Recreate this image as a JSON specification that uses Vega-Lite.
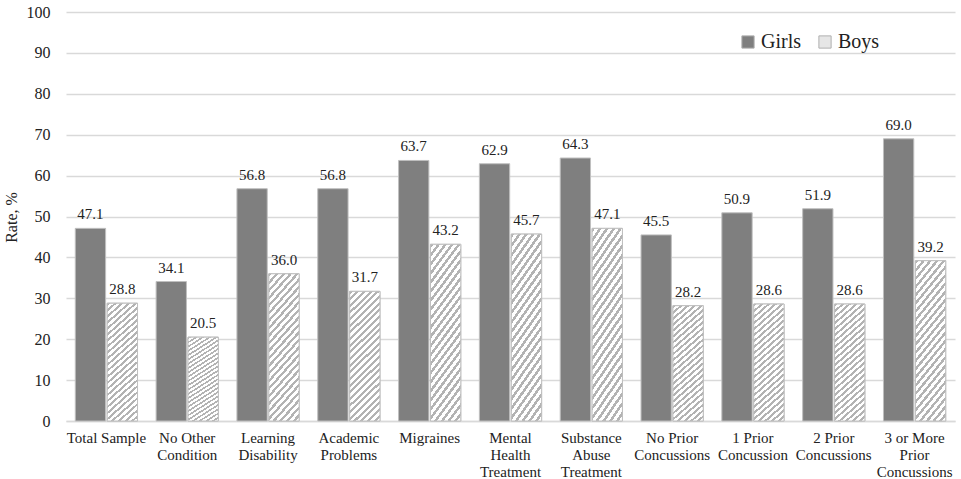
{
  "$schema": "https://vega.github.io/schema/vega-lite/v6.json",
  "width": 889,
  "height": 409,
  "autosize": {"type": "none"},
  "padding": {"left": 66, "top": 12, "right": 6, "bottom": 58},
  "background": "white",
  "config": {
    "font": "Liberation Serif",
    "view": {"stroke": null},
    "legend": {"labelFont": "Liberation Serif"}
  },
  "data": {
    "values": [
      {"cat": "Total Sample", "sex": "Girls", "rate": 47.1},
      {"cat": "Total Sample", "sex": "Boys", "rate": 28.8},
      {"cat": "No Other|Condition", "sex": "Girls", "rate": 34.1},
      {"cat": "No Other|Condition", "sex": "Boys", "rate": 20.5},
      {"cat": "Learning|Disability", "sex": "Girls", "rate": 56.8},
      {"cat": "Learning|Disability", "sex": "Boys", "rate": 36.0},
      {"cat": "Academic|Problems", "sex": "Girls", "rate": 56.8},
      {"cat": "Academic|Problems", "sex": "Boys", "rate": 31.7},
      {"cat": "Migraines", "sex": "Girls", "rate": 63.7},
      {"cat": "Migraines", "sex": "Boys", "rate": 43.2},
      {"cat": "Mental|Health|Treatment", "sex": "Girls", "rate": 62.9},
      {"cat": "Mental|Health|Treatment", "sex": "Boys", "rate": 45.7},
      {"cat": "Substance|Abuse|Treatment", "sex": "Girls", "rate": 64.3},
      {"cat": "Substance|Abuse|Treatment", "sex": "Boys", "rate": 47.1},
      {"cat": "No Prior|Concussions", "sex": "Girls", "rate": 45.5},
      {"cat": "No Prior|Concussions", "sex": "Boys", "rate": 28.2},
      {"cat": "1 Prior|Concussion", "sex": "Girls", "rate": 50.9},
      {"cat": "1 Prior|Concussion", "sex": "Boys", "rate": 28.6},
      {"cat": "2 Prior|Concussions", "sex": "Girls", "rate": 51.9},
      {"cat": "2 Prior|Concussions", "sex": "Boys", "rate": 28.6},
      {"cat": "3 or More|Prior|Concussions", "sex": "Girls", "rate": 69.0},
      {"cat": "3 or More|Prior|Concussions", "sex": "Boys", "rate": 39.2}
    ]
  },
  "encoding": {
    "x": {
      "field": "cat",
      "type": "nominal",
      "sort": null,
      "scale": {"paddingInner": 0.23, "paddingOuter": 0.115},
      "axis": {
        "title": null,
        "labelAngle": 0,
        "labelExpr": "split(datum.label, '|')",
        "labelFont": "Liberation Serif",
        "labelFontSize": 15,
        "labelColor": "#222222",
        "labelLineHeight": 17,
        "labelPadding": 9,
        "labelBaseline": "top",
        "ticks": false,
        "domainColor": "#d9d9d9",
        "domainWidth": 1.5,
        "labelLimit": 200
      }
    },
    "xOffset": {
      "field": "sex",
      "type": "nominal",
      "sort": ["Girls", "Boys"],
      "scale": {"domain": ["Girls", "Boys"], "paddingInner": 0.05}
    },
    "y": {
      "field": "rate",
      "type": "quantitative",
      "scale": {"domain": [0, 100]},
      "axis": {
        "title": "Rate, %",
        "values": [0, 10, 20, 30, 40, 50, 60, 70, 80, 90, 100],
        "domain": false,
        "ticks": false,
        "gridColor": "#d9d9d9",
        "gridWidth": 1.5,
        "labelFont": "Liberation Serif",
        "labelFontSize": 16,
        "labelColor": "#222222",
        "labelPadding": 16,
        "titleFont": "Liberation Serif",
        "titleFontSize": 16,
        "titleFontWeight": "normal",
        "titleColor": "#222222",
        "titleAngle": -90,
        "titleX": -55,
        "titleY": 205,
        "titleAlign": "center",
        "titleBaseline": "middle"
      }
    }
  },
  "layer": [
    {
      "mark": {"type": "bar", "stroke": "#bfbfbf", "strokeWidth": 1},
      "encoding": {
        "fill": {
          "field": "sex",
          "type": "nominal",
          "sort": ["Girls", "Boys"],
          "scale": {"domain": ["Girls", "Boys"], "range": ["#7f7f7f", "#e6e6e6"]},
          "legend": {
            "title": null,
            "orient": "none",
            "direction": "horizontal",
            "legendX": 672,
            "legendY": 20,
            "symbolType": "square",
            "symbolSize": 150,
            "symbolStrokeColor": "#b0b0b0",
            "symbolStrokeWidth": 1,
            "symbolOpacity": 1,
            "labelFont": "Liberation Serif",
            "labelFontSize": 20,
            "labelColor": "#222222",
            "labelOffset": 3,
            "columnPadding": 14,
            "encode": {
              "labels": {
                "update": {
                  "font": {"value": "Liberation Serif"}
                }
              },
              "symbols": {
                "update": {
                  "stroke": {"value": "#b0b0b0"},
                  "strokeWidth": {"value": 1}
                }
              }
            }
          }
        }
      }
    },
    {
      "transform": [{"filter": "datum.sex === 'Boys'"}],
      "mark": {
        "type": "bar",
        "stroke": "#bfbfbf",
        "strokeWidth": 1,
        "fill": {"gradient": "linear", "x1": 0, "y1": 0, "x2": 0.269, "y2": 1.168, "stops": [
          {"offset": 0, "color": "#b3b3b3"}, {"offset": 0.0188, "color": "#b3b3b3"}, {"offset": 0.0188, "color": "#ffffff"}, {"offset": 0.0417, "color": "#ffffff"},
          {"offset": 0.0417, "color": "#b3b3b3"}, {"offset": 0.0604, "color": "#b3b3b3"}, {"offset": 0.0604, "color": "#ffffff"}, {"offset": 0.0833, "color": "#ffffff"},
          {"offset": 0.0833, "color": "#b3b3b3"}, {"offset": 0.1021, "color": "#b3b3b3"}, {"offset": 0.1021, "color": "#ffffff"}, {"offset": 0.125, "color": "#ffffff"},
          {"offset": 0.125, "color": "#b3b3b3"}, {"offset": 0.1438, "color": "#b3b3b3"}, {"offset": 0.1438, "color": "#ffffff"}, {"offset": 0.1667, "color": "#ffffff"},
          {"offset": 0.1667, "color": "#b3b3b3"}, {"offset": 0.1854, "color": "#b3b3b3"}, {"offset": 0.1854, "color": "#ffffff"}, {"offset": 0.2083, "color": "#ffffff"},
          {"offset": 0.2083, "color": "#b3b3b3"}, {"offset": 0.2271, "color": "#b3b3b3"}, {"offset": 0.2271, "color": "#ffffff"}, {"offset": 0.25, "color": "#ffffff"},
          {"offset": 0.25, "color": "#b3b3b3"}, {"offset": 0.2688, "color": "#b3b3b3"}, {"offset": 0.2688, "color": "#ffffff"}, {"offset": 0.2917, "color": "#ffffff"},
          {"offset": 0.2917, "color": "#b3b3b3"}, {"offset": 0.3104, "color": "#b3b3b3"}, {"offset": 0.3104, "color": "#ffffff"}, {"offset": 0.3333, "color": "#ffffff"},
          {"offset": 0.3333, "color": "#b3b3b3"}, {"offset": 0.3521, "color": "#b3b3b3"}, {"offset": 0.3521, "color": "#ffffff"}, {"offset": 0.375, "color": "#ffffff"},
          {"offset": 0.375, "color": "#b3b3b3"}, {"offset": 0.3938, "color": "#b3b3b3"}, {"offset": 0.3938, "color": "#ffffff"}, {"offset": 0.4167, "color": "#ffffff"},
          {"offset": 0.4167, "color": "#b3b3b3"}, {"offset": 0.4354, "color": "#b3b3b3"}, {"offset": 0.4354, "color": "#ffffff"}, {"offset": 0.4583, "color": "#ffffff"},
          {"offset": 0.4583, "color": "#b3b3b3"}, {"offset": 0.4771, "color": "#b3b3b3"}, {"offset": 0.4771, "color": "#ffffff"}, {"offset": 0.5, "color": "#ffffff"},
          {"offset": 0.5, "color": "#b3b3b3"}, {"offset": 0.5188, "color": "#b3b3b3"}, {"offset": 0.5188, "color": "#ffffff"}, {"offset": 0.5417, "color": "#ffffff"},
          {"offset": 0.5417, "color": "#b3b3b3"}, {"offset": 0.5604, "color": "#b3b3b3"}, {"offset": 0.5604, "color": "#ffffff"}, {"offset": 0.5833, "color": "#ffffff"},
          {"offset": 0.5833, "color": "#b3b3b3"}, {"offset": 0.6021, "color": "#b3b3b3"}, {"offset": 0.6021, "color": "#ffffff"}, {"offset": 0.625, "color": "#ffffff"},
          {"offset": 0.625, "color": "#b3b3b3"}, {"offset": 0.6438, "color": "#b3b3b3"}, {"offset": 0.6438, "color": "#ffffff"}, {"offset": 0.6667, "color": "#ffffff"},
          {"offset": 0.6667, "color": "#b3b3b3"}, {"offset": 0.6854, "color": "#b3b3b3"}, {"offset": 0.6854, "color": "#ffffff"}, {"offset": 0.7083, "color": "#ffffff"},
          {"offset": 0.7083, "color": "#b3b3b3"}, {"offset": 0.7271, "color": "#b3b3b3"}, {"offset": 0.7271, "color": "#ffffff"}, {"offset": 0.75, "color": "#ffffff"},
          {"offset": 0.75, "color": "#b3b3b3"}, {"offset": 0.7688, "color": "#b3b3b3"}, {"offset": 0.7688, "color": "#ffffff"}, {"offset": 0.7917, "color": "#ffffff"},
          {"offset": 0.7917, "color": "#b3b3b3"}, {"offset": 0.8104, "color": "#b3b3b3"}, {"offset": 0.8104, "color": "#ffffff"}, {"offset": 0.8333, "color": "#ffffff"},
          {"offset": 0.8333, "color": "#b3b3b3"}, {"offset": 0.8521, "color": "#b3b3b3"}, {"offset": 0.8521, "color": "#ffffff"}, {"offset": 0.875, "color": "#ffffff"},
          {"offset": 0.875, "color": "#b3b3b3"}, {"offset": 0.8938, "color": "#b3b3b3"}, {"offset": 0.8938, "color": "#ffffff"}, {"offset": 0.9167, "color": "#ffffff"},
          {"offset": 0.9167, "color": "#b3b3b3"}, {"offset": 0.9354, "color": "#b3b3b3"}, {"offset": 0.9354, "color": "#ffffff"}, {"offset": 0.9583, "color": "#ffffff"},
          {"offset": 0.9583, "color": "#b3b3b3"}, {"offset": 0.9771, "color": "#b3b3b3"}, {"offset": 0.9771, "color": "#ffffff"}, {"offset": 1, "color": "#ffffff"}
        ]}
      },
      "encoding": {}
    },
    {
      "mark": {
        "type": "text",
        "font": "Liberation Serif",
        "fontSize": 15,
        "color": "#222222",
        "baseline": "alphabetic",
        "dy": -9
      },
      "encoding": {
        "text": {"field": "rate", "type": "quantitative", "format": ".1f"}
      }
    }
  ]
}
